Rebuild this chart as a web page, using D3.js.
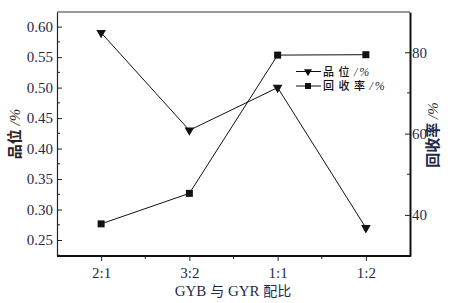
<!DOCTYPE html>
<html><head><meta charset="utf-8">
<script src="https://cdn.jsdelivr.net/npm/d3@7"></script>
<style>body{margin:0;background:#fff}</style>
</head><body>
<script>
const categories = ["2:1","3:2","1:1","1:2"];
const grade = [0.59, 0.43, 0.50, 0.27];
const recovery = [37.8, 45.3, 79.3, 79.4];
const leftTicks = [0.25,0.30,0.35,0.40,0.45,0.50,0.55,0.60];
const rightTicks = [40,60,80];

const W=457,H=303;
const m={l:57,r:410,t:12,b:256};
const svg=d3.select("body").append("svg").attr("width",W).attr("height",H);
const x=d3.scalePoint().domain(categories).range([m.l,m.r]).padding(0.5);
const yL=d3.scaleLinear().domain([0.2238,0.624]).range([m.b,m.t]);
const yR=d3.scaleLinear().domain([29.9,89.9]).range([m.b,m.t]);
const numFont="'Liberation Serif','Times New Roman',serif";
const cjk="'Noto Sans CJK SC','Noto Sans',sans-serif";
const tcol="#1f2a4a";

// frame
svg.append("line").attr("x1",m.l).attr("x2",m.r).attr("y1",m.t).attr("y2",m.t).attr("stroke","#333").attr("stroke-width",1);

// left axis
const gL=svg.append("g").attr("transform",`translate(${m.l},0)`)
  .call(d3.axisLeft(yL).tickValues(leftTicks).tickFormat(d3.format(".2f")).tickSizeInner(-5).tickSizeOuter(0).tickPadding(5));
gL.select(".domain").attr("stroke","#222").attr("stroke-width",1.2);
gL.selectAll("text").attr("font-family",numFont).attr("font-size",15).attr("fill",tcol).attr("x",-4);
gL.selectAll(".tick line").attr("stroke","#222");
const minorL=d3.range(0.225,0.62,0.05);
svg.append("g").selectAll("line").data(minorL).join("line")
  .attr("x1",m.l).attr("x2",m.l+3).attr("y1",d=>yL(d)).attr("y2",d=>yL(d)).attr("stroke","#222");

// right axis
const gR=svg.append("g").attr("transform",`translate(${m.r},0)`)
  .call(d3.axisRight(yR).tickValues(rightTicks).tickSizeInner(-5).tickSizeOuter(0).tickPadding(3));
gR.select(".domain").attr("stroke","#111").attr("stroke-width",2);
gR.selectAll("text").attr("font-family",numFont).attr("font-size",15).attr("fill",tcol).attr("x",2);
gR.selectAll(".tick line").attr("stroke","#222");
svg.append("g").selectAll("line").data([50,70]).join("line")
  .attr("x1",m.r).attr("x2",m.r-3).attr("y1",d=>yR(d)).attr("y2",d=>yR(d)).attr("stroke","#222");

// bottom axis
const gB=svg.append("g").attr("transform",`translate(0,${m.b})`)
  .call(d3.axisBottom(x).tickSizeInner(5).tickSizeOuter(0).tickPadding(6));
gB.select(".domain").attr("stroke","#111").attr("stroke-width",2).attr("d",`M${m.l},0H${m.r+1}`);
gB.selectAll("text").attr("font-family",numFont).attr("font-size",15).attr("fill",tcol);
gB.selectAll(".tick line").attr("stroke","#222");
const step=x.step();
svg.append("g").selectAll("line").data(categories.slice(0,3)).join("line")
  .attr("x1",d=>x(d)+step/2).attr("x2",d=>x(d)+step/2).attr("y1",m.b).attr("y2",m.b+3).attr("stroke","#222");

// lines
const lineL=d3.line().x((d,i)=>x(categories[i])).y(d=>yL(d));
const lineR=d3.line().x((d,i)=>x(categories[i])).y(d=>yR(d));
svg.append("path").attr("d",lineL(grade)).attr("fill","none").attr("stroke","#111").attr("stroke-width",1);
svg.append("path").attr("d",lineR(recovery)).attr("fill","none").attr("stroke","#111").attr("stroke-width",1);
const tri=d3.symbol().type(d3.symbolTriangle).size(40);
const triS=d3.symbol().type(d3.symbolTriangle).size(28);
svg.append("g").selectAll("path").data(grade).join("path")
  .attr("d",tri).attr("transform",(d,i)=>`translate(${x(categories[i])},${yL(d)}) rotate(180)`).attr("fill","#111");
svg.append("g").selectAll("rect").data(recovery).join("rect")
  .attr("x",(d,i)=>x(categories[i])-3.5).attr("y",d=>yR(d)-3.5).attr("width",7).attr("height",7).attr("fill","#111");

// legend
const leg=[{label:"品位",sym:"tri"},{label:"回收率",sym:"sq"}];
const lg=svg.append("g");
leg.forEach((l,i)=>{
  const yy=71.5+i*14.5, x0=296;
  lg.append("line").attr("x1",x0).attr("x2",x0+25).attr("y1",yy).attr("y2",yy).attr("stroke","#111");
  if(l.sym==="tri") lg.append("path").attr("d",triS).attr("transform",`translate(${x0+12},${yy}) rotate(180)`).attr("fill","#111");
  else lg.append("rect").attr("x",x0+9).attr("y",yy-3).attr("width",6).attr("height",6).attr("fill","#111");
  const t=lg.append("text").attr("x",x0+27).attr("y",yy+4).attr("font-size",11).attr("fill","#111");
  t.append("tspan").attr("font-family",cjk).attr("font-weight","500").attr("letter-spacing",4.5).text(l.label);
  t.append("tspan").attr("font-family",numFont).attr("font-style","italic").attr("font-size",12).attr("letter-spacing",2).attr("fill",tcol).text("/%");
});

// axis titles
const lt=svg.append("text").attr("transform","translate(20,134) rotate(-90)").attr("text-anchor","middle").attr("font-size",15).attr("fill","#2a2320");
lt.append("tspan").attr("font-family",cjk).attr("font-weight","bold").text("品位");
lt.append("tspan").attr("font-family",numFont).attr("font-style","italic").text(" /%");
const rt=svg.append("text").attr("transform","translate(438,135) rotate(-90)").attr("text-anchor","middle").attr("font-size",15).attr("fill","#1f2a4a");
rt.append("tspan").attr("font-family",cjk).attr("font-weight","bold").text("回收率");
rt.append("tspan").attr("font-family",numFont).attr("font-style","italic").text(" /%");
const bt=svg.append("text").attr("x",233).attr("y",296).attr("text-anchor","middle").attr("font-size",15).attr("fill",tcol);
bt.append("tspan").attr("font-family",numFont).text("GYB ");
bt.append("tspan").attr("font-family",cjk).attr("font-size",14).text("与");
bt.append("tspan").attr("font-family",numFont).text(" GYR ");
bt.append("tspan").attr("font-family",cjk).attr("font-size",14).text("配比");
</script>
</body></html>
